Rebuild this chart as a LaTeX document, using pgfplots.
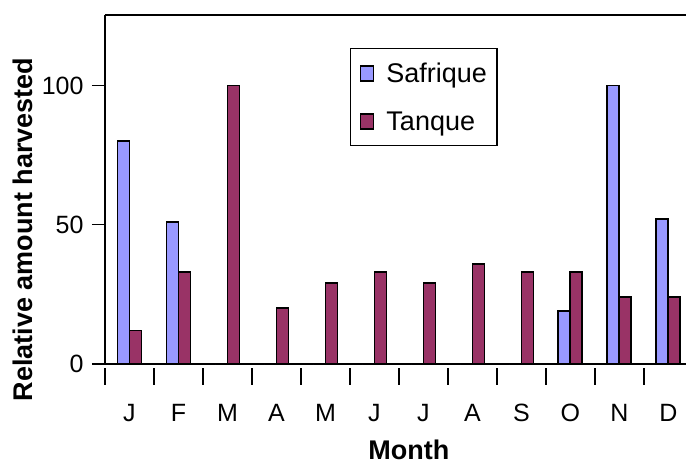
\documentclass[border=0pt]{standalone}
\usepackage{fontspec}
\setmainfont{Liberation Sans}
\usepackage{pgfplots}
\pgfplotsset{compat=1.18}
\definecolor{safrique}{HTML}{9999FF}
\definecolor{tanque}{HTML}{993366}
\pgfplotsset{sq legend/.style={legend image code/.code={\draw[##1] (0pt,-7.5pt) rectangle (13pt,7.5pt);}}}

\begin{document}
\begin{tikzpicture}
\begin{axis}[
    name=ax,
    scale only axis,
    width=581pt, height=349pt,
    xmin=0.5, xmax=12.36,
    ymin=0, ymax=125.3,
    axis x line=box,
    axis y line*=left,
    axis line style={line width=1.5pt},
    ybar,
    bar width=0.245,
    tick align=outside,
    xtick pos=bottom, ytick pos=left,
    ytick={0,50,100},
    major tick length=13pt,
    minor tick length=17pt,
    xtick={1,...,12},
    xticklabels={J,F,M,A,M,J,J,A,S,O,N,D},
    minor xtick={0.5,1.5,...,11.5},
    major x tick style={draw=none},
    minor x tick style={line width=1.4pt, black, yshift=-3.5pt},
    major y tick style={line width=1.4pt, black},
    ticklabel style={font=\fontsize{25}{30}\selectfont},
    /pgf/number format/assume math mode=true,
    xticklabel style={yshift=-24pt},
    yticklabel style={xshift=-5pt},
    ylabel={Relative amount harvested},
    ylabel style={at={(axis description cs:-0.1411,0.3854)}, anchor=center,
        font=\bfseries\fontsize{27}{30}\selectfont},
    xlabel={Month},
    xlabel style={at={(axis description cs:0.523,-0.245)}, anchor=center,
        font=\bfseries\fontsize{27}{30}\selectfont},
    legend style={at={(0.4217,0.9055)}, anchor=north west, draw=black,
        line width=1.3pt, inner xsep=9pt, inner ysep=12pt, row sep=24pt,
        column sep=11pt,
        nodes={inner xsep=1pt, inner ysep=2pt},
        font=\fontsize{27}{30}\selectfont},
    legend cell align=left,
]
\addplot[fill=safrique, draw=black, line width=1.8pt, bar shift=-0.1225, sq legend]
    coordinates {(1,80) (2,51) (3,0) (4,0) (5,0) (6,0) (7,0) (8,0) (9,0) (10,19) (11,100) (12,52)};
\addplot[fill=tanque, draw=black, line width=1.8pt, bar shift=0.1225, sq legend]
    coordinates {(1,12) (2,33) (3,100) (4,20) (5,29) (6,33) (7,29) (8,36) (9,33) (10,33) (11,24) (12,24)};
\legend{Safrique,Tanque}
\end{axis}
\pgfresetboundingbox
\path[use as bounding box] ([xshift=-105pt,yshift=-100pt]ax.south west) rectangle ([yshift=364pt]ax.south east);
\end{tikzpicture}
\end{document}
